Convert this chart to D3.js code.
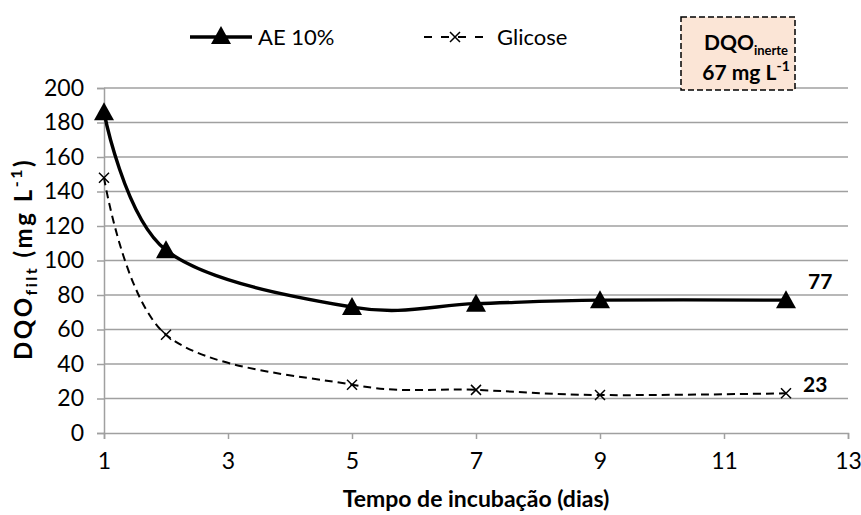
<!DOCTYPE html>
<html><head><meta charset="utf-8">
<script src="https://cdn.jsdelivr.net/npm/d3@7"></script>
<style>body{margin:0;background:#fff}svg{display:block;font-family:Lato,"Liberation Sans",sans-serif}</style>
</head><body>
<svg id="c" width="861" height="515"></svg>
<script>
const days = [1, 2, 5, 7, 9, 12];
const ae10 = [186, 106, 73, 75, 77, 77];
const glicose = [148, 57, 28, 25, 22, 23];
const xTicks = [1, 3, 5, 7, 9, 11, 13];
const yTicks = [0, 20, 40, 60, 80, 100, 120, 140, 160, 180, 200];
const endLabels = ["77", "23"];

const svg = d3.select("#c");
const x = d3.scaleLinear().domain([1, 13]).range([104, 848]);
const y = d3.scaleLinear().domain([0, 200]).range([433, 88]);
const GRID = "#a0a0a0";

// grid
svg.append("g").selectAll("line").data(yTicks.filter(d => d > 0)).join("line")
  .attr("x1", x(1)).attr("x2", x(13)).attr("y1", d => y(d)).attr("y2", d => y(d))
  .attr("stroke", GRID).attr("stroke-width", 1.5);

// axes
const yAxis = svg.append("g").attr("transform", `translate(${x(1)},0)`)
  .call(d3.axisLeft(y).tickValues(yTicks).tickSize(7).tickPadding(13));
yAxis.select(".domain").attr("stroke", GRID).attr("stroke-width", 1.5);
yAxis.selectAll(".tick line").attr("stroke", GRID).attr("stroke-width", 1.5);
yAxis.selectAll("text").attr("font-size", 23).attr("fill", "#000").attr("font-family", "Lato");

const xAxis = svg.append("g").attr("transform", `translate(0,${y(0)})`)
  .call(d3.axisBottom(x).tickValues(xTicks).tickSize(6).tickPadding(14).tickFormat(d3.format("d")));
xAxis.select(".domain").attr("stroke", GRID).attr("stroke-width", 1.5);
xAxis.selectAll(".tick line").attr("stroke", GRID).attr("stroke-width", 1.5);
xAxis.selectAll("text").attr("font-size", 23).attr("fill", "#000").attr("font-family", "Lato");

// lines
const line = d3.line().curve(d3.curveCardinal.tension(0)).x(d => x(d[0])).y(d => y(d[1]));
const aeData = days.map((d, i) => [d, ae10[i]]);
const glData = days.map((d, i) => [d, glicose[i]]);

svg.append("path").datum(glData).attr("d", line).attr("fill", "none")
  .attr("stroke", "#000").attr("stroke-width", 2).attr("stroke-dasharray", "8,5");
svg.append("path").datum(aeData).attr("d", line).attr("fill", "none")
  .attr("stroke", "#000").attr("stroke-width", 3.4);

const triPath = "M0,-10L10,8L-10,8Z";
function xMark(g, cx, cy, r) {
  g.append("path").attr("d", `M${cx-r},${cy-r}L${cx+r},${cy+r}M${cx-r},${cy+r}L${cx+r},${cy-r}`)
    .attr("stroke", "#000").attr("stroke-width", 1.5).attr("fill", "none");
}
svg.append("g").selectAll("path").data(aeData).join("path")
  .attr("d", triPath).attr("transform", d => `translate(${x(d[0])},${y(d[1])})`).attr("fill", "#000");
const gx = svg.append("g");
glData.forEach(d => xMark(gx, x(d[0]), y(d[1]), 5));

// end labels
svg.append("text").attr("x", x(12) + 22).attr("y", y(ae10[5]) - 11).attr("font-size", 21)
  .attr("font-weight", "bold").text(endLabels[0]);
svg.append("text").attr("x", x(12) + 17).attr("y", y(glicose[5]) - 1).attr("font-size", 21)
  .attr("font-weight", "bold").text(endLabels[1]);

// legend
const lg = svg.append("g");
lg.append("line").attr("x1", 190).attr("x2", 252).attr("y1", 37).attr("y2", 37).attr("stroke", "#000").attr("stroke-width", 3.4);
lg.append("path").attr("d", triPath).attr("transform", "translate(221,36)").attr("fill", "#000");
lg.append("text").attr("x", 258).attr("y", 45).attr("font-size", 22).text("AE 10%");
lg.append("line").attr("x1", 424).attr("x2", 487).attr("y1", 37).attr("y2", 37).attr("stroke", "#000").attr("stroke-width", 2).attr("stroke-dasharray", "8,9");
xMark(lg, 455, 37, 5);
lg.append("text").attr("x", 497).attr("y", 45).attr("font-size", 22).text("Glicose");

// annotation box
svg.append("rect").attr("x", 681).attr("y", 17).attr("width", 114).attr("height", 73)
  .attr("fill", "#fbe5d6").attr("stroke", "#000").attr("stroke-width", 1.5).attr("stroke-dasharray", "6,3");
const t1 = svg.append("text").attr("x", 746).attr("y", 50).attr("text-anchor", "middle")
  .attr("font-size", 21).attr("font-weight", "bold");
t1.append("tspan").text("DQO");
t1.append("tspan").attr("font-size", 13).attr("dy", 5).text("inerte");
const t2 = svg.append("text").attr("x", 746).attr("y", 80).attr("text-anchor", "middle")
  .attr("font-size", 21).attr("font-weight", "bold");
t2.append("tspan").text("67 mg L");
t2.append("tspan").attr("font-size", 14).attr("dy", -9).text("-1");

// axis titles
const yt = svg.append("text").attr("transform", "translate(32,259) rotate(-90)").attr("text-anchor", "middle")
  .attr("font-size", 24).attr("font-weight", "bold").attr("letter-spacing", 2.5);
yt.append("tspan").text("DQO");
yt.append("tspan").attr("font-size", 16).attr("dy", 5).text("filt");
yt.append("tspan").attr("dy", -5).text(" (mg L");
yt.append("tspan").attr("font-size", 16).attr("dy", -10).text("-1");
yt.append("tspan").attr("dy", 10).text(")");

svg.append("text").attr("x", 476).attr("y", 507).attr("text-anchor", "middle")
  .attr("font-size", 23).attr("font-weight", "bold").text("Tempo de incubação (dias)");
</script>
</body></html>
